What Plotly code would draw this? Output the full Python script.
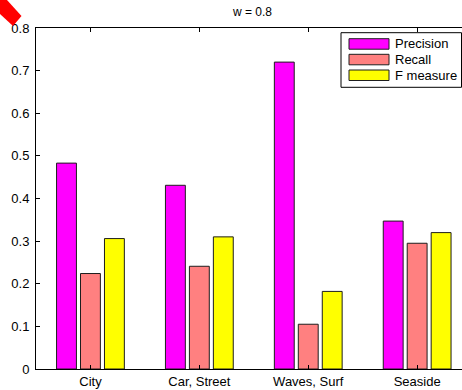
import plotly.graph_objects as go

categories = ["City", "Car, Street", "Waves, Surf", "Seaside"]
precision = [0.483, 0.431, 0.720, 0.347]
recall = [0.224, 0.241, 0.105, 0.295]
f_measure = [0.306, 0.310, 0.182, 0.320]
series_names = ["Precision", "Recall", "F measure"]
series_colors = ["#FF00FF", "#FF8080", "#FFFF00"]
y_ticks = [0, 0.1, 0.2, 0.3, 0.4, 0.5, 0.6, 0.7, 0.8]
title_text = "w = 0.8"

W, H = 462, 390
ML, MR, MT, MB = 36, 0, 28, 21
PW, PH = W - ML - MR, H - MT - MB

def px(xp):
    return (xp - ML) / PW

def py(yp):
    return (H - MB - yp) / PH

xpos = [1, 2, 3, 4]
fig = go.Figure()
for name, vals, col in zip(series_names, [precision, recall, f_measure], series_colors):
    fig.add_trace(go.Bar(
        x=xpos, y=vals, name=name,
        marker=dict(color=col, line=dict(color="rgb(30,30,30)", width=1)),
        showlegend=False,
    ))

font = "Liberation Sans, Arial, sans-serif"
fig.update_layout(
    width=W, height=H,
    margin=dict(l=ML, r=MR, t=MT, b=MB, pad=0),
    paper_bgcolor="white", plot_bgcolor="white",
    barmode="group", bargap=0.34, bargroupgap=0.17,
    font=dict(family=font, size=13, color="black"),
    title=dict(text=title_text, x=(252.5) / W, xanchor="center",
               y=1 - 12 / H, yanchor="middle", font=dict(size=12, family=font)),
    xaxis=dict(
        range=[0.5, 0.5 + PW / 108.9],
        tickvals=xpos, ticktext=categories,
        ticks="inside", ticklen=4, tickcolor="black",
        showline=True, linecolor="black", linewidth=1, mirror="ticks",
        showgrid=False, zeroline=False,
        tickfont=dict(size=13, family=font),
    ),
    yaxis=dict(
        range=[0, 0.8], tickvals=y_ticks,
        ticktext=[f"{v:g}" for v in y_ticks],
        ticks="inside", ticklen=4, tickcolor="black",
        showline=True, linecolor="black", linewidth=1,
        showgrid=False, zeroline=False,
        tickfont=dict(size=13, family=font),
        ticklabelstandoff=3,
    ),
    showlegend=False,
)

shapes = []
# legend box
shapes.append(dict(type="rect", xref="paper", yref="paper",
                   x0=px(341), x1=px(461.5), y0=py(87.3), y1=py(32.7),
                   line=dict(color="black", width=1), fillcolor="white", layer="above"))
annotations = []
row_tops = [38.7, 54.3, 70.0]
for name, col, top in zip(series_names, series_colors, row_tops):
    shapes.append(dict(type="rect", xref="paper", yref="paper",
                       x0=px(349), x1=px(389), y0=py(top + 10.5), y1=py(top),
                       line=dict(color="rgb(30,30,30)", width=1), fillcolor=col, layer="above"))
    annotations.append(dict(xref="paper", yref="paper", x=px(393), y=py(top + 5.3),
                            text=name, showarrow=False, xanchor="left", yanchor="middle",
                            font=dict(size=13, family=font, color="black")))

# red corner ribbon
pts = [(0, 0), (7, 0), (21.5, 16), (13, 26), (0, 14)]
path = "M " + " L ".join(f"{px(a):.5f},{py(b):.5f}" for a, b in pts) + " Z"
shapes.append(dict(type="path", xref="paper", yref="paper", path=path,
                   fillcolor="red", line=dict(width=0), layer="above"))

fig.update_layout(shapes=shapes, annotations=annotations)
fig.write_html("out.html")
